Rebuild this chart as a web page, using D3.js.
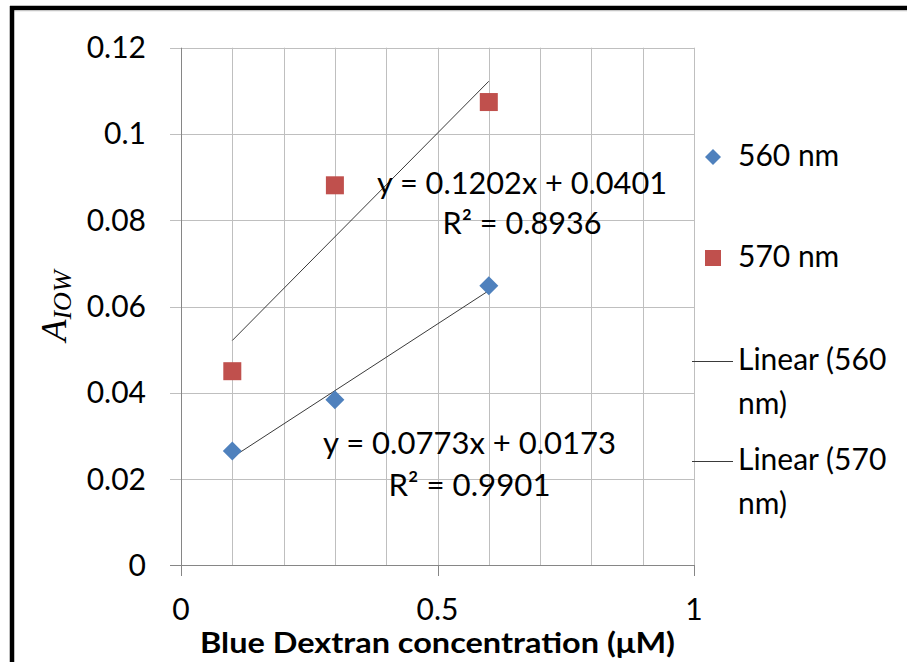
<!DOCTYPE html>
<html><head><meta charset="utf-8">
<script src="https://cdn.jsdelivr.net/npm/d3@7"></script>
<style>body{margin:0;background:#fff}svg{display:block}</style>
</head><body><svg id="c" width="907" height="662" font-family="Lato,'Open Sans',sans-serif"></svg>
<script>
const xValues = [0.1, 0.3, 0.6];
const series560 = [0.0265, 0.0384, 0.0648];
const series570 = [0.0450, 0.0881, 0.1074];
const seriesNames = ["560 nm", "570 nm"];
const trendSlopes = [0.0773, 0.1202];
const trendIntercepts = [0.0173, 0.0401];
const trendR2 = ["0.9901", "0.8936"];
const yTicks = [0, 0.02, 0.04, 0.06, 0.08, 0.1, 0.12];
const yTickLabels = ["0", "0.02", "0.04", "0.06", "0.08", "0.1", "0.12"];
const xTicks = [0, 0.5, 1];
const xTickLabels = ["0", "0.5", "1"];
const xGrid = [0,0.1,0.2,0.3,0.4,0.5,0.6,0.7,0.8,0.9,1];
const xTitle = "Blue Dextran concentration (\u03bcM)";

const svg = d3.select("#c");
const x = d3.scaleLinear().domain([0,1]).range([181,694]);
const y = d3.scaleLinear().domain([0,0.12]).range([565.3,47.7]);
const blue = "#4f81bd", red = "#c0504d";

// frame
svg.append("line").attr("x1",10).attr("x2",907).attr("y1",8).attr("y2",8).attr("stroke","#000").attr("stroke-width",4.5);
svg.append("line").attr("x1",10).attr("x2",907).attr("y1",10.8).attr("y2",10.8).attr("stroke","#c8c8c8").attr("stroke-width",1);
svg.append("line").attr("x1",12).attr("x2",12).attr("y1",6).attr("y2",662).attr("stroke","#000").attr("stroke-width",4.5);

// gridlines
svg.append("g").selectAll("line").data(yTicks.slice(1)).join("line")
  .attr("x1",170).attr("x2",694).attr("y1",d=>Math.round(y(d))+0.5).attr("y2",d=>Math.round(y(d))+0.5)
  .attr("stroke","#bfbfbf").attr("stroke-width",1);
svg.append("g").selectAll("line").data(xGrid.slice(1)).join("line")
  .attr("x1",d=>Math.round(x(d))+0.5).attr("x2",d=>Math.round(x(d))+0.5).attr("y1",47.7).attr("y2",565)
  .attr("stroke","#bfbfbf").attr("stroke-width",1);
// axes
svg.append("line").attr("x1",181.5).attr("x2",181.5).attr("y1",47.7).attr("y2",576).attr("stroke","#868686");
svg.append("line").attr("x1",170).attr("x2",694).attr("y1",565.5).attr("y2",565.5).attr("stroke","#868686");
svg.append("g").selectAll("line").data(xTicks).join("line")
  .attr("x1",d=>Math.round(x(d))+0.5).attr("x2",d=>Math.round(x(d))+0.5).attr("y1",565).attr("y2",576).attr("stroke","#868686");

// tick labels
svg.append("g").selectAll("text").data(yTicks).join("text")
  .attr("x",146).attr("y",(d)=>y(d)+10.5).attr("text-anchor","end").attr("font-size",30).attr("fill","#000")
  .text((d,i)=>yTickLabels[i]);
svg.append("g").selectAll("text").data(xTicks).join("text")
  .attr("x",d=>x(d)).attr("y",620).attr("text-anchor","middle").attr("font-size",30).attr("fill","#000")
  .text((d,i)=>xTickLabels[i]);

// axis titles
svg.append("text").attr("x",200).attr("y",653).attr("font-size",29).attr("font-weight","bold")
  .attr("textLength",475).attr("lengthAdjust","spacingAndGlyphs").text(xTitle);
const yl = svg.append("text").attr("transform","translate(66,306) rotate(-90)").attr("text-anchor","middle")
  .style("font-family","'Liberation Serif','DejaVu Serif',serif").style("font-style","italic");
yl.append("tspan").attr("font-size",36).text("A");
yl.append("tspan").attr("font-size",26).attr("dy",5).text("IOW");

// trendlines
[0,1].forEach(i=>{
  const x0 = d3.min(xValues), x1 = d3.max(xValues);
  svg.append("line").attr("x1",x(x0)).attr("x2",x(x1))
    .attr("y1",y(trendSlopes[i]*x0+trendIntercepts[i])).attr("y2",y(trendSlopes[i]*x1+trendIntercepts[i]))
    .attr("stroke","#3a3a3a").attr("stroke-width",1);
});

// markers
const diamond = (s)=>`M0,${-s}L${s},0L0,${s}L${-s},0Z`;
svg.append("g").selectAll("path").data(xValues).join("path")
  .attr("transform",(d,i)=>`translate(${x(d)},${y(series560[i])})`).attr("d",diamond(9.5)).attr("fill",blue);
svg.append("g").selectAll("rect").data(xValues).join("rect")
  .attr("x",d=>x(d)-9).attr("y",(d,i)=>y(series570[i])-9).attr("width",18).attr("height",18).attr("fill",red);

// equation labels
const eq = [
  {i:1, cx:522, y1:194, y2:234, w1:290, w2:159},
  {i:0, cx:469.5, y1:454, y2:496, w1:293, w2:162}
];
eq.forEach(e=>{
  svg.append("text").attr("x",e.cx).attr("y",e.y1).attr("text-anchor","middle").attr("font-size",30)
    .attr("textLength",e.w1).attr("lengthAdjust","spacingAndGlyphs")
    .text(`y = ${trendSlopes[e.i].toFixed(4)}x + ${trendIntercepts[e.i].toFixed(4)}`);
  svg.append("text").attr("x",e.cx).attr("y",e.y2).attr("text-anchor","middle").attr("font-size",30)
    .attr("textLength",e.w2).attr("lengthAdjust","spacingAndGlyphs")
    .text(`R\u00b2 = ${trendR2[e.i]}`);
});

// legend
svg.append("path").attr("transform","translate(713,157)").attr("d",diamond(8)).attr("fill",blue);
svg.append("rect").attr("x",705).attr("y",250).attr("width",16).attr("height",16).attr("fill",red);
svg.append("text").attr("x",738).attr("y",166).attr("font-size",30).text(seriesNames[0]);
svg.append("text").attr("x",738).attr("y",267).attr("font-size",30).text(seriesNames[1]);
[[361,"Linear (560","nm)"],[461,"Linear (570","nm)"]].forEach((r,k)=>{
  svg.append("line").attr("x1",692).attr("x2",733).attr("y1",r[0]+0.5).attr("y2",r[0]+0.5).attr("stroke","#3a3a3a");
  svg.append("text").attr("x",738).attr("y",r[0]+9).attr("font-size",30).text(`Linear (${seriesNames[k]}`.replace(" nm",""));
  svg.append("text").attr("x",738).attr("y",r[0]+53).attr("font-size",30).text("nm)");
});
</script></body></html>
